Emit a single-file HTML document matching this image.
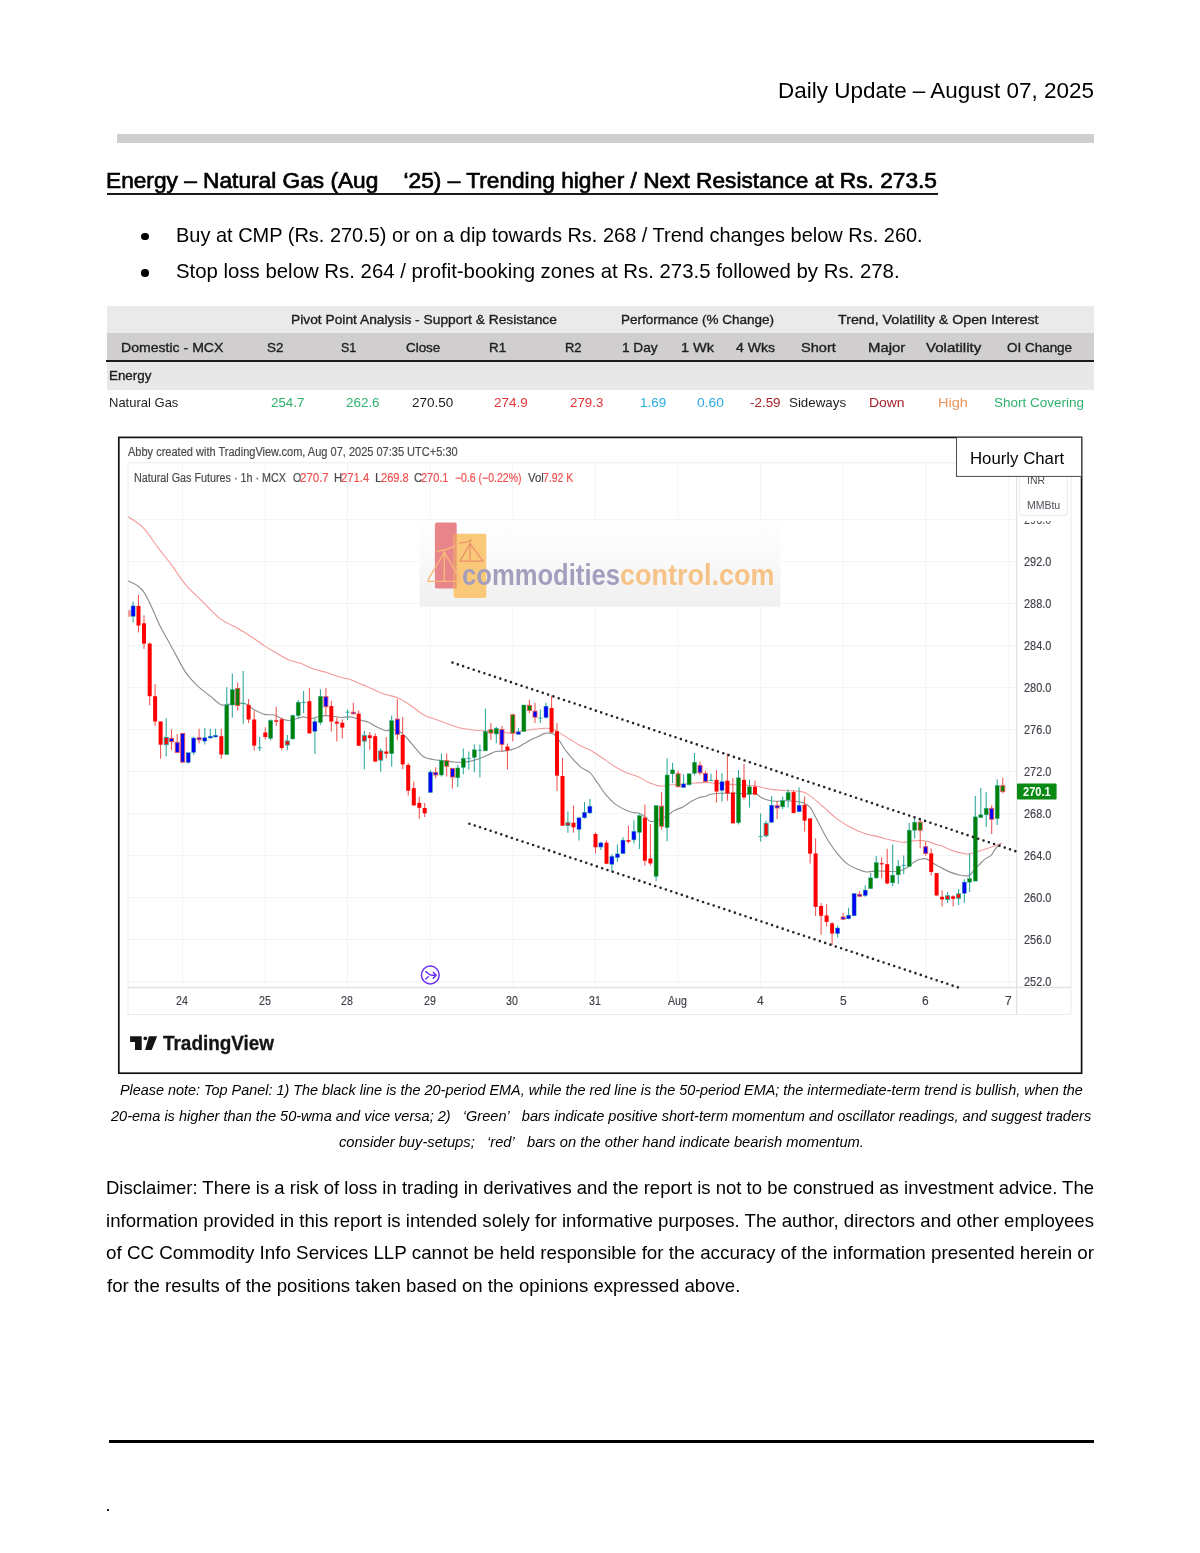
<!DOCTYPE html>
<html lang="en"><head><meta charset="utf-8"><title>Daily Update</title>
<style>
html,body{margin:0;padding:0;background:#fff;}
body{width:1200px;height:1553px;position:relative;overflow:hidden;font-family:'Liberation Sans', sans-serif;color:#000;}
.t{position:absolute;white-space:pre;line-height:1;transform-origin:0 0;}
.r{position:absolute;}
.tx{position:absolute;left:0;top:0;width:1200px;height:1553px;will-change:transform;}
svg{position:absolute;left:0;top:0;}
</style></head><body>
<div class="r" style="left:116.5px;top:134.3px;width:977.8px;height:8.4px;background:#d0cece;"></div>
<div class="r" style="left:107px;top:193.2px;width:831px;height:1.6px;background:#1a1a1a;"></div>
<div class="r" style="left:107.3px;top:306.2px;width:987px;height:27.2px;background:#eaeaea;"></div>
<div class="r" style="left:107.3px;top:333.4px;width:987px;height:27px;background:#d0cece;"></div>
<div class="r" style="left:107.3px;top:362px;width:987px;height:28px;background:#e8e8e8;"></div>
<div class="r" style="left:105.8px;top:360.2px;width:988.5px;height:2px;background:#1c1c1c;"></div>
<div class="r" style="left:109.2px;top:1440px;width:985px;height:3.2px;background:#000;"></div>
<div class="r" style="left:107.2px;top:1508.8px;width:1.7px;height:1.9px;background:#222;"></div>
<div class="r" style="left:141.25px;top:232.6px;width:7.5px;height:7.5px;background:#000;border-radius:50%;"></div>
<div class="r" style="left:141.25px;top:269.1px;width:7.5px;height:7.5px;background:#000;border-radius:50%;"></div>
<svg width="1200" height="1553" viewBox="0 0 1200 1553">
<rect x="118.8" y="437.4" width="962.8" height="635.8" fill="#fff" stroke="#111" stroke-width="1.7"/>
<path d="M128 519.5H1016.5 M128 561.5H1016.5 M128 603.5H1016.5 M128 645.5H1016.5 M128 687.5H1016.5 M128 729.5H1016.5 M128 771.5H1016.5 M128 813.5H1016.5 M128 855.5H1016.5 M128 897.5H1016.5 M128 939.5H1016.5 M128 981.5H1016.5 M182.5 463V987 M265.0 463V987 M347.5 463V987 M430.3 463V987 M512.8 463V987 M595.4 463V987 M678.0 463V987 M760.6 463V987 M843.3 463V987 M925.7 463V987 M1008.8 463V987" stroke="#f3f5f5" stroke-width="1" fill="none"/>
<path d="M128 462.8H1071 M128 462.8V1014.5 M1071 462.8V1014.5 M128 1014.5H1071" stroke="#ebebeb" stroke-width="1" fill="none"/>
<path d="M128 987.5H1071" stroke="#e4e4e4" stroke-width="1.6" fill="none"/>
<path d="M1016.6 463V1014.5" stroke="#e2e2e2" stroke-width="1.2" fill="none"/>
<rect x="1019.5" y="470" width="48" height="45.3" rx="3" fill="#fff" stroke="#eeeeee" stroke-width="1.2"/>
<defs><linearGradient id="wg" x1="0" y1="0" x2="0" y2="1"><stop offset="0" stop-color="#fefefe"/><stop offset="0.5" stop-color="#f9f9f9"/><stop offset="0.78" stop-color="#f3f3f4"/><stop offset="1" stop-color="#f0f0f2"/></linearGradient><filter id="wb" x="-5%" y="-5%" width="110%" height="110%"><feGaussianBlur stdDeviation="0.55"/></filter></defs>
<rect x="419.5" y="521" width="361" height="85.6" fill="url(#wg)"/>
<g filter="url(#wb)">
<rect x="434.9" y="522.6" width="21.8" height="65.9" rx="2" fill="#e8858b"/>
<rect x="453.6" y="533.7" width="32.7" height="64.3" rx="2" fill="#f9c878"/>
<rect x="453.6" y="533.7" width="3.1" height="54.8" fill="#ec9a72"/>
<path d="M437.2 551.2Q446.5 550.3 454.6 546.3 M444.3 551.2V581 M444.3 552.3L428.6 578.8 M444.3 552.3L459.8 578.6 M428.4 581.4H460 M428.6 578.8L428.2 581.6 M459.8 578.6L460.2 581.4" fill="none" stroke="#f8b878" stroke-width="1.4" stroke-linecap="round"/>
<path d="M460 543.2Q466.5 542.2 471.8 540 M470 540V561 M470 543.6L460.2 560.6 M470 543.6L482.7 560.6 M460 561.2H482.8" fill="none" stroke="#ea916c" stroke-width="1.2" stroke-linecap="round"/>
</g>
<defs><filter id="cb" x="0" y="0" width="100%" height="100%" filterUnits="userSpaceOnUse"><feGaussianBlur stdDeviation="0.4"/></filter></defs><g filter="url(#cb)">
<path d="M128.2 516.8C130.7 518.6 138.2 522.6 143.3 527.9C148.4 533.1 153.8 542.2 158.5 548.3C163.2 554.4 166.6 558.5 171.3 564.7C176.0 570.9 181.4 579.7 186.5 585.7C191.6 591.7 196.1 595.3 201.7 600.8C207.3 606.3 214.5 614.4 220.3 618.9C226.1 623.4 232.6 625.4 236.7 627.7C240.8 630.0 242.4 631.2 245.0 632.8C247.6 634.4 248.9 635.1 252.2 637.3C255.4 639.5 260.4 643.2 264.5 645.9C268.6 648.5 272.6 650.9 276.7 653.2C280.8 655.6 284.8 658.3 288.9 660.0C293.0 661.7 297.1 662.1 301.2 663.6C305.3 665.1 309.3 667.7 313.4 669.1C317.5 670.5 321.5 671.0 325.6 672.2C329.7 673.4 333.8 675.3 337.9 676.5C342.0 677.7 346.4 678.3 350.1 679.5C353.8 680.7 357.1 682.6 360.0 683.8C362.9 685.0 362.9 684.9 367.2 686.7C371.5 688.5 380.5 692.8 385.6 694.6C390.7 696.4 393.7 696.0 397.8 697.7C401.9 699.4 405.7 702.1 410.0 705.0C414.3 707.9 419.4 712.4 423.5 714.8C427.6 717.1 430.6 717.7 434.5 719.1C438.4 720.5 442.6 722.0 446.7 723.4C450.8 724.8 455.1 726.7 459.0 727.7C462.9 728.7 466.1 729.0 470.0 729.5C473.9 730.0 478.1 730.4 482.2 730.7C486.3 731.0 489.6 730.8 494.5 731.2C499.4 731.6 507.5 733.0 511.6 733.1C515.7 733.2 515.6 732.2 518.9 731.6C522.2 731.0 526.7 730.2 531.2 729.7C535.7 729.2 542.1 728.4 545.8 728.3C549.5 728.2 550.8 728.2 553.2 729.1C555.7 730.0 557.6 731.7 560.5 733.4C563.4 735.1 567.0 737.5 570.3 739.5C573.6 741.5 576.8 743.9 580.1 745.6C583.4 747.3 587.5 748.7 590.0 749.9C592.5 751.1 592.2 751.2 594.8 753.0C597.4 754.8 602.1 757.9 605.8 760.4C609.5 762.9 613.1 765.6 616.8 767.7C620.5 769.8 624.1 771.7 627.8 773.2C631.5 774.7 635.1 775.3 638.8 776.9C642.5 778.5 646.1 781.5 649.8 783.0C653.5 784.5 657.3 785.8 660.8 786.1C664.3 786.4 666.9 785.1 670.6 784.8C674.3 784.5 678.8 784.5 682.9 784.2C687.0 783.9 691.4 783.3 695.1 783.0C698.8 782.7 702.1 782.4 705.0 782.4C707.9 782.4 709.0 782.6 712.2 782.9C715.5 783.1 720.4 783.6 724.5 783.9C728.6 784.2 732.6 784.5 736.7 784.8C740.8 785.0 745.6 785.2 748.9 785.4C752.2 785.6 753.8 785.6 756.3 786.0C758.8 786.4 760.8 787.2 763.6 787.8C766.5 788.4 769.7 789.1 773.4 789.6C777.1 790.1 781.5 790.2 785.6 790.5C789.7 790.8 794.6 790.8 797.9 791.2C801.2 791.6 802.8 791.6 805.2 792.7C807.6 793.8 810.0 795.7 812.5 797.6C815.0 799.5 818.0 802.5 820.0 804.3C822.0 806.0 822.2 805.8 824.8 808.1C827.4 810.4 831.9 814.9 835.8 817.9C839.7 820.9 843.3 823.3 848.0 825.9C852.7 828.5 858.8 831.4 863.9 833.2C869.0 835.0 873.7 835.7 878.6 836.9C883.5 838.1 889.0 839.7 893.3 840.6C897.6 841.5 901.0 842.4 904.3 842.4C907.6 842.4 909.8 841.2 912.9 840.9C916.0 840.6 919.8 840.4 922.6 840.6C925.5 840.8 927.9 841.5 930.0 842.1C932.1 842.7 933.2 843.6 935.0 844.2C936.8 844.8 938.1 844.6 940.9 845.6C943.7 846.6 948.4 849.3 951.9 850.5C955.4 851.7 958.9 852.4 961.7 853.0C964.6 853.6 966.1 854.2 969.0 853.9C971.9 853.6 975.5 852.1 978.8 851.1C982.1 850.1 985.8 849.0 988.6 848.1C991.5 847.2 993.7 846.4 995.9 845.6C998.1 844.8 1001.0 843.6 1002.0 843.2" fill="none" stroke="#f59a9a" stroke-width="1.1" stroke-linejoin="round"/>
<path d="M128.2 581.0C129.8 581.8 134.9 583.9 137.5 585.7C140.1 587.6 141.6 588.6 143.9 592.1C146.2 595.6 148.9 601.2 151.5 606.7C154.1 612.2 157.0 619.8 159.7 625.3C162.4 630.8 165.4 635.7 167.8 640.0C170.2 644.3 170.8 645.7 173.9 651.2C177.0 656.7 182.1 667.3 186.2 673.2C190.3 679.1 194.3 682.7 198.4 686.6C202.5 690.5 206.9 693.4 210.6 696.4C214.3 699.4 217.8 703.0 220.4 704.4C223.1 705.8 223.2 704.8 226.5 704.6C229.8 704.4 236.5 703.1 240.0 703.1C243.5 703.1 244.9 703.4 247.3 704.6C249.8 705.8 251.8 708.5 254.7 710.1C257.6 711.7 261.2 713.6 264.5 714.4C267.8 715.2 271.4 714.3 274.3 715.0C277.2 715.7 279.2 717.8 281.6 718.7C284.0 719.6 286.4 720.5 288.9 720.5C291.3 720.5 293.9 719.3 296.3 718.7C298.8 718.1 301.2 716.9 303.6 716.9C306.0 716.9 308.2 718.8 310.9 718.7C313.5 718.6 317.1 716.7 319.5 716.2C321.9 715.7 323.4 715.6 325.6 715.6C327.9 715.6 330.4 715.9 333.0 716.2C335.6 716.5 338.6 717.4 341.5 717.5C344.4 717.6 347.5 716.7 350.1 716.9C352.8 717.1 355.6 718.1 357.4 718.7C359.2 719.3 359.2 719.7 361.1 720.3C363.0 720.9 366.1 721.2 368.5 722.2C370.9 723.2 372.9 725.1 375.8 726.5C378.7 727.9 383.0 730.2 385.6 730.7C388.2 731.2 389.5 729.4 391.7 729.5C393.9 729.6 396.6 730.0 399.0 731.3C401.4 732.6 403.5 734.5 406.4 737.5C409.3 740.5 413.2 745.9 416.2 749.1C419.1 752.4 421.2 755.3 424.1 757.0C427.0 758.7 430.1 758.9 433.3 759.5C436.5 760.1 439.8 760.3 443.1 760.7C446.4 761.1 450.0 761.6 452.9 761.9C455.8 762.2 457.3 762.4 460.2 762.3C463.1 762.2 466.7 762.0 470.0 761.4C473.3 760.8 476.8 759.6 479.8 758.5C482.9 757.4 485.7 756.0 488.3 754.8C490.9 753.6 493.2 752.1 495.7 751.5C498.1 750.9 500.6 751.4 503.0 751.1C505.4 750.8 507.9 750.5 510.4 749.9C512.9 749.3 515.5 748.5 517.7 747.5C519.9 746.5 521.5 745.1 523.8 743.8C526.0 742.5 528.8 740.7 531.2 739.5C533.7 738.3 536.3 737.5 538.5 736.5C540.7 735.5 542.8 734.0 544.6 733.4C546.4 732.8 547.9 732.9 549.5 733.1C551.1 733.3 552.8 733.3 554.4 734.6C556.0 735.9 557.3 737.9 559.3 740.7C561.3 743.6 564.1 748.4 566.6 751.7C569.1 755.0 571.5 757.6 574.0 760.3C576.5 762.9 578.6 765.5 581.3 767.6C583.9 769.7 587.2 770.1 589.9 772.6C592.5 775.1 594.6 778.7 597.2 782.4C599.9 786.1 602.7 790.9 605.8 794.6C608.9 798.3 612.3 801.9 615.6 804.4C618.9 806.9 622.4 808.5 625.4 809.9C628.4 811.3 631.7 812.2 633.9 812.7C636.1 813.2 637.0 812.4 638.8 813.0C640.6 813.6 643.0 815.2 644.9 816.6C646.8 818.0 648.6 820.9 650.4 821.5C652.2 822.1 653.8 820.9 655.9 820.3C658.0 819.7 661.0 818.9 663.3 817.9C665.5 816.9 667.6 815.4 669.4 814.2C671.2 813.0 672.0 811.7 674.3 810.5C676.5 809.3 680.0 808.4 682.9 806.9C685.8 805.4 688.8 802.8 691.4 801.3C694.0 799.8 696.5 798.5 698.8 797.7C701.1 796.9 703.2 797.0 705.0 796.5C706.8 796.0 707.4 795.0 709.8 794.5C712.2 794.0 716.5 793.5 719.6 793.3C722.7 793.1 725.2 793.3 728.1 793.3C731.0 793.3 733.2 793.2 736.7 793.3C740.2 793.4 745.6 793.8 748.9 793.9C752.2 794.0 754.2 793.3 756.3 793.9C758.3 794.5 759.2 796.5 761.2 797.6C763.2 798.7 766.1 799.7 768.5 800.3C770.9 800.9 772.9 801.2 775.8 801.3C778.6 801.4 782.3 800.7 785.6 800.7C788.9 800.7 792.3 800.9 795.4 801.3C798.5 801.7 801.5 802.1 804.0 803.1C806.5 804.1 808.3 805.3 810.1 807.4C811.9 809.5 813.2 812.5 815.0 815.9C816.8 819.3 818.9 823.5 821.1 827.7C823.4 831.9 825.6 836.7 828.5 841.2C831.4 845.7 835.0 850.7 838.2 854.6C841.5 858.5 844.7 862.0 848.0 864.4C851.3 866.8 854.7 868.0 857.8 869.3C860.9 870.6 863.8 871.7 866.4 872.0C869.0 872.3 870.9 871.2 873.7 871.1C876.6 871.0 880.2 871.0 883.5 871.1C886.8 871.2 890.4 871.6 893.3 871.5C896.1 871.4 898.1 871.3 900.6 870.5C903.1 869.7 905.8 868.3 908.0 866.9C910.2 865.5 912.1 863.3 914.1 862.0C916.1 860.7 918.2 859.8 920.2 859.3C922.2 858.8 924.3 858.3 926.3 858.9C928.3 859.5 929.9 861.3 932.3 862.8C934.7 864.2 938.0 866.1 940.9 867.6C943.8 869.1 946.4 870.7 949.5 871.9C952.6 873.1 956.0 874.4 959.3 875.0C962.5 875.6 966.6 876.4 969.0 875.6C971.4 874.8 972.3 871.8 973.9 870.1C975.5 868.4 977.0 867.0 978.8 865.2C980.6 863.4 982.8 860.7 984.9 859.1C987.0 857.5 989.3 857.2 991.1 855.4C992.9 853.6 994.3 850.0 995.9 848.1C997.5 846.2 1000.0 844.5 1000.8 843.8" fill="none" stroke="#8f8f8f" stroke-width="1.15" stroke-linejoin="round"/>
<path d="M138.5 594.9V632.6 M144.0 615.3V649.0 M149.7 642.6V705.2 M155.1 684.2V725.8 M160.6 721.5V758.8 M171.5 729.2V750.0 M177.2 734.1V752.7 M182.7 733.4V762.2 M199.1 728.8V743.5 M221.3 728.8V758.8 M237.7 682.4V710.5 M248.6 699.1V723.0 M254.2 710.7V750.5 M265.3 727.2V739.5 M276.2 706.8V726.0 M281.7 717.5V750.5 M309.4 688.1V733.4 M325.9 688.1V715.4 M331.3 700.7V731.5 M336.8 717.5V741.6 M342.3 719.3V738.6 M353.3 702.8V714.4 M358.7 710.6V746.0 M369.8 732.0V750.0 M375.2 733.2V761.6 M386.3 736.9V758.6 M397.3 698.9V740.3 M402.7 717.0V769.3 M408.2 763.1V795.6 M413.8 781.5V805.4 M419.3 796.8V818.8 M424.7 802.9V817.0 M435.7 767.2V778.2 M446.7 753.4V776.6 M452.4 768.4V788.8 M490.9 723.0V740.1 M501.9 726.1V751.5 M507.4 743.5V769.5 M512.8 713.8V741.3 M529.4 699.8V713.2 M535.0 702.8V723.0 M551.6 695.5V732.4 M557.0 723.0V790.9 M562.5 757.9V825.7 M573.5 805.6V832.7 M595.5 832.5V853.1 M606.5 840.5V864.3 M628.4 825.8V843.5 M644.9 804.4V865.6 M650.4 824.0V865.6 M661.6 792.2V829.8 M678.1 770.8V787.3 M700.0 761.6V775.3 M705.5 770.7V781.5 M716.5 770.1V802.5 M727.4 753.6V800.7 M732.9 778.3V823.3 M744.0 764.0V799.4 M755.0 780.5V795.2 M777.1 801.0V819.0 M793.6 790.3V813.7 M804.6 796.4V831.6 M810.1 818.4V863.4 M815.6 838.2V916.0 M821.1 902.9V934.7 M826.6 904.2V926.5 M832.1 921.9V945.1 M843.1 912.7V919.5 M859.6 891.3V896.5 M881.7 857.3V878.5 M887.2 848.7V884.2 M920.2 819.1V848.3 M925.7 841.8V855.8 M931.2 848.5V875.4 M936.6 873.1V895.5 M942.1 890.3V906.5 M953.1 895.2V906.5 M991.7 805.3V834.0 M1002.8 777.7V793.6" stroke="#ee5451" stroke-width="1.05" fill="none"/>
<path d="M133.1 601.6V622.8 M166.2 718.2V756.6 M188.2 752.7V763.5 M193.7 736.8V754.9 M204.8 728.0V744.4 M210.3 728.8V738.6 M215.6 728.8V737.4 M226.8 687.2V754.5 M232.3 673.4V717.8 M243.2 670.9V723.8 M259.7 737.0V751.1 M270.7 719.3V740.5 M287.3 735.0V750.2 M292.8 714.4V739.5 M298.2 700.0V718.7 M303.6 690.9V713.2 M314.9 718.0V753.9 M320.4 689.3V724.8 M347.6 709.5V719.9 M364.3 730.7V769.6 M380.7 748.5V771.7 M391.7 715.4V766.8 M430.4 769.9V792.5 M441.4 753.4V776.6 M457.8 765.0V787.0 M463.3 748.5V774.2 M468.8 751.5V769.6 M474.3 744.3V772.3 M479.9 744.4V777.4 M485.4 708.7V750.8 M496.3 726.7V743.2 M518.4 728.3V734.4 M523.9 705.0V731.3 M540.3 709.5V723.0 M546.0 702.8V718.5 M567.9 811.4V832.7 M579.0 817.8V840.4 M584.5 801.9V818.4 M589.9 798.9V813.6 M600.9 841.7V849.9 M611.9 854.3V871.7 M617.4 844.5V861.9 M623.0 837.2V853.9 M633.9 820.3V843.5 M639.4 814.2V849.0 M656.1 805.6V881.2 M667.1 758.2V841.3 M672.6 762.8V783.0 M683.6 774.4V787.5 M689.1 773.8V785.4 M694.5 753.0V775.3 M711.0 773.7V781.1 M722.0 773.1V801.5 M738.5 770.1V824.5 M749.5 779.5V807.4 M760.6 813.5V841.6 M766.1 820.6V837.4 M771.6 796.1V822.3 M782.7 796.4V809.2 M788.1 789.3V807.4 M799.1 787.2V811.7 M837.6 925.6V937.6 M848.6 907.8V919.2 M854.1 893.5V915.8 M865.2 885.2V896.8 M870.7 873.0V888.9 M876.2 856.1V878.8 M892.7 844.6V886.2 M898.2 860.1V884.0 M903.7 855.6V874.2 M909.2 823.1V866.9 M914.7 817.3V838.5 M947.6 892.1V902.9 M958.6 889.0V905.0 M964.3 879.3V902.9 M969.6 853.6V891.9 M975.3 796.1V881.1 M980.8 788.1V818.1 M986.2 792.0V827.0 M997.2 779.3V825.1" stroke="#2aa79b" stroke-width="1.05" fill="none"/>
<rect x="128.3" y="610.2" width="2.3" height="6.5" fill="#f28a8a"/>
<rect x="131.1" y="605.9" width="4.0" height="10.4" fill="#0000ff" stroke="#2aa79b" stroke-width="0.5"/>
<rect x="136.5" y="605.9" width="4.0" height="19.6" fill="#ff0000"/>
<rect x="142.0" y="623.3" width="4.0" height="20.3" fill="#ff0000"/>
<rect x="147.7" y="643.6" width="4.0" height="52.6" fill="#ff0000"/>
<rect x="153.1" y="696.2" width="4.0" height="25.3" fill="#ff0000"/>
<rect x="158.6" y="721.5" width="4.0" height="23.2" fill="#ff0000"/>
<rect x="164.2" y="737.4" width="4.0" height="7.3" fill="#ff0000" stroke="#2aa79b" stroke-width="0.9"/>
<rect x="169.5" y="738.3" width="4.0" height="3.4" fill="#0000ff" stroke="#ee5451" stroke-width="0.9"/>
<rect x="175.2" y="742.3" width="4.0" height="10.1" fill="#0000ff" stroke="#ee5451" stroke-width="0.9"/>
<rect x="180.7" y="733.4" width="4.0" height="28.8" fill="#0000ff" stroke="#ee5451" stroke-width="0.9"/>
<rect x="186.2" y="752.7" width="4.0" height="9.8" fill="#0000ff" stroke="#2aa79b" stroke-width="0.5"/>
<rect x="191.7" y="738.0" width="4.0" height="14.4" fill="#0000ff" stroke="#2aa79b" stroke-width="0.5"/>
<rect x="197.1" y="737.8" width="4.0" height="2.0" fill="#0000ff" stroke="#ee5451" stroke-width="0.9"/>
<rect x="202.8" y="737.8" width="4.0" height="3.3" fill="#0000ff" stroke="#2aa79b" stroke-width="0.5"/>
<rect x="208.3" y="736.2" width="4.0" height="1.8" fill="#0000ff" stroke="#2aa79b" stroke-width="0.5"/>
<rect x="213.6" y="735.3" width="4.0" height="1.7" fill="#0000ff" stroke="#2aa79b" stroke-width="0.5"/>
<rect x="219.3" y="736.2" width="4.0" height="18.3" fill="#ff0000"/>
<rect x="224.8" y="705.0" width="4.0" height="49.5" fill="#008000" stroke="#2aa79b" stroke-width="0.5"/>
<rect x="230.3" y="689.7" width="4.0" height="15.3" fill="#008000" stroke="#2aa79b" stroke-width="0.5"/>
<rect x="235.7" y="688.5" width="4.0" height="17.1" fill="#008000" stroke="#ee5451" stroke-width="0.9"/>
<rect x="241.2" y="703.0" width="4.0" height="1.0" fill="#2aa79b"/>
<rect x="246.6" y="704.9" width="4.0" height="14.6" fill="#ff0000"/>
<rect x="252.2" y="719.5" width="4.0" height="26.1" fill="#ff0000"/>
<rect x="257.7" y="747.3" width="4.0" height="1.0" fill="#2aa79b"/>
<rect x="263.3" y="732.5" width="4.0" height="4.5" fill="#ff0000"/>
<rect x="268.7" y="720.5" width="4.0" height="17.8" fill="#008000" stroke="#2aa79b" stroke-width="0.5"/>
<rect x="274.2" y="720.3" width="4.0" height="1.4" fill="#ff0000"/>
<rect x="279.7" y="719.3" width="4.0" height="28.7" fill="#ff0000"/>
<rect x="285.3" y="741.0" width="4.0" height="4.0" fill="#ff0000" stroke="#2aa79b" stroke-width="0.9"/>
<rect x="290.8" y="715.6" width="4.0" height="23.3" fill="#008000" stroke="#2aa79b" stroke-width="0.5"/>
<rect x="296.2" y="702.2" width="4.0" height="13.4" fill="#008000" stroke="#2aa79b" stroke-width="0.5"/>
<rect x="301.6" y="701.9" width="4.0" height="1.0" fill="#2aa79b"/>
<rect x="307.4" y="701.2" width="4.0" height="32.2" fill="#ff0000"/>
<rect x="312.9" y="721.7" width="4.0" height="9.6" fill="#0000ff" stroke="#2aa79b" stroke-width="0.5"/>
<rect x="318.4" y="696.3" width="4.0" height="26.1" fill="#008000" stroke="#2aa79b" stroke-width="0.5"/>
<rect x="323.9" y="696.7" width="4.0" height="10.1" fill="#0000ff" stroke="#ee5451" stroke-width="0.9"/>
<rect x="329.3" y="706.1" width="4.0" height="15.4" fill="#ff0000"/>
<rect x="334.8" y="721.7" width="4.0" height="1.9" fill="#ff0000"/>
<rect x="340.3" y="722.7" width="4.0" height="4.9" fill="#ff0000"/>
<rect x="345.6" y="711.7" width="4.0" height="1.0" fill="#2aa79b"/>
<rect x="351.3" y="712.2" width="4.0" height="1.6" fill="#0000ff" stroke="#ee5451" stroke-width="0.9"/>
<rect x="356.7" y="713.7" width="4.0" height="32.1" fill="#ff0000"/>
<rect x="362.3" y="735.6" width="4.0" height="5.5" fill="#ff0000" stroke="#2aa79b" stroke-width="0.9"/>
<rect x="367.8" y="735.3" width="4.0" height="2.8" fill="#ff0000"/>
<rect x="373.2" y="736.2" width="4.0" height="25.4" fill="#ff0000"/>
<rect x="378.7" y="750.9" width="4.0" height="9.2" fill="#ff0000" stroke="#2aa79b" stroke-width="0.9"/>
<rect x="384.3" y="751.5" width="4.0" height="2.2" fill="#ff0000"/>
<rect x="389.7" y="720.7" width="4.0" height="33.0" fill="#008000" stroke="#2aa79b" stroke-width="0.5"/>
<rect x="395.3" y="719.1" width="4.0" height="15.3" fill="#0000ff" stroke="#ee5451" stroke-width="0.9"/>
<rect x="400.7" y="735.0" width="4.0" height="29.4" fill="#ff0000"/>
<rect x="406.2" y="765.0" width="4.0" height="25.7" fill="#ff0000"/>
<rect x="411.8" y="788.2" width="4.0" height="17.2" fill="#ff0000"/>
<rect x="417.3" y="802.9" width="4.0" height="4.9" fill="#ff0000"/>
<rect x="422.7" y="808.0" width="4.0" height="5.3" fill="#ff0000"/>
<rect x="428.4" y="772.1" width="4.0" height="20.4" fill="#0000ff" stroke="#2aa79b" stroke-width="0.5"/>
<rect x="433.7" y="772.3" width="4.0" height="2.7" fill="#0000ff" stroke="#ee5451" stroke-width="0.9"/>
<rect x="439.4" y="760.5" width="4.0" height="14.5" fill="#008000" stroke="#2aa79b" stroke-width="0.5"/>
<rect x="444.7" y="760.7" width="4.0" height="5.5" fill="#008000" stroke="#ee5451" stroke-width="0.9"/>
<rect x="450.4" y="768.4" width="4.0" height="8.6" fill="#0000ff" stroke="#ee5451" stroke-width="0.9"/>
<rect x="455.8" y="768.0" width="4.0" height="9.8" fill="#008000" stroke="#2aa79b" stroke-width="0.5"/>
<rect x="461.3" y="758.3" width="4.0" height="9.1" fill="#008000" stroke="#2aa79b" stroke-width="0.5"/>
<rect x="466.8" y="757.8" width="4.0" height="1.0" fill="#2aa79b"/>
<rect x="472.3" y="749.8" width="4.0" height="7.6" fill="#008000" stroke="#2aa79b" stroke-width="0.5"/>
<rect x="477.9" y="749.8" width="4.0" height="1.0" fill="#2aa79b"/>
<rect x="483.4" y="731.6" width="4.0" height="19.2" fill="#008000" stroke="#2aa79b" stroke-width="0.5"/>
<rect x="488.9" y="729.7" width="4.0" height="3.4" fill="#008000" stroke="#ee5451" stroke-width="0.9"/>
<rect x="494.3" y="728.3" width="4.0" height="5.7" fill="#008000" stroke="#2aa79b" stroke-width="0.5"/>
<rect x="499.9" y="729.5" width="4.0" height="14.9" fill="#0000ff" stroke="#ee5451" stroke-width="0.9"/>
<rect x="505.4" y="746.6" width="4.0" height="3.9" fill="#ff0000"/>
<rect x="510.8" y="714.8" width="4.0" height="18.3" fill="#008000" stroke="#ee5451" stroke-width="0.9"/>
<rect x="516.4" y="731.9" width="4.0" height="2.5" fill="#0000ff" stroke="#2aa79b" stroke-width="0.5"/>
<rect x="521.9" y="705.0" width="4.0" height="26.3" fill="#008000" stroke="#2aa79b" stroke-width="0.5"/>
<rect x="527.4" y="705.3" width="4.0" height="5.1" fill="#008000" stroke="#ee5451" stroke-width="0.9"/>
<rect x="533.0" y="711.1" width="4.0" height="6.1" fill="#0000ff" stroke="#ee5451" stroke-width="0.9"/>
<rect x="538.3" y="717.6" width="4.0" height="1.0" fill="#2aa79b"/>
<rect x="544.0" y="706.2" width="4.0" height="11.3" fill="#0000ff" stroke="#2aa79b" stroke-width="0.5"/>
<rect x="549.6" y="708.0" width="4.0" height="24.4" fill="#ff0000"/>
<rect x="555.0" y="731.3" width="4.0" height="44.3" fill="#ff0000"/>
<rect x="560.5" y="776.0" width="4.0" height="49.7" fill="#ff0000"/>
<rect x="565.9" y="822.7" width="4.0" height="2.7" fill="#ff0000" stroke="#2aa79b" stroke-width="0.9"/>
<rect x="571.5" y="822.7" width="4.0" height="4.6" fill="#ff0000"/>
<rect x="577.0" y="817.8" width="4.0" height="11.6" fill="#0000ff" stroke="#2aa79b" stroke-width="0.5"/>
<rect x="582.5" y="812.3" width="4.0" height="5.5" fill="#0000ff" stroke="#2aa79b" stroke-width="0.5"/>
<rect x="587.9" y="806.2" width="4.0" height="6.8" fill="#0000ff" stroke="#2aa79b" stroke-width="0.5"/>
<rect x="593.5" y="834.0" width="4.0" height="13.2" fill="#ff0000"/>
<rect x="598.9" y="842.9" width="4.0" height="4.1" fill="#0000ff" stroke="#2aa79b" stroke-width="0.5"/>
<rect x="604.5" y="842.7" width="4.0" height="21.0" fill="#ff0000"/>
<rect x="609.9" y="856.4" width="4.0" height="7.9" fill="#0000ff" stroke="#2aa79b" stroke-width="0.5"/>
<rect x="615.4" y="853.9" width="4.0" height="3.7" fill="#0000ff" stroke="#2aa79b" stroke-width="0.5"/>
<rect x="621.0" y="840.1" width="4.0" height="13.5" fill="#0000ff" stroke="#2aa79b" stroke-width="0.5"/>
<rect x="626.4" y="840.1" width="4.0" height="1.6" fill="#ff0000"/>
<rect x="631.9" y="831.3" width="4.0" height="8.6" fill="#0000ff" stroke="#2aa79b" stroke-width="0.5"/>
<rect x="637.4" y="815.7" width="4.0" height="16.6" fill="#008000" stroke="#2aa79b" stroke-width="0.5"/>
<rect x="642.9" y="817.6" width="4.0" height="43.1" fill="#ff0000"/>
<rect x="648.4" y="858.5" width="4.0" height="4.9" fill="#ff0000"/>
<rect x="654.1" y="805.6" width="4.0" height="70.7" fill="#008000" stroke="#2aa79b" stroke-width="0.5"/>
<rect x="659.6" y="806.2" width="4.0" height="20.0" fill="#008000" stroke="#ee5451" stroke-width="0.9"/>
<rect x="665.1" y="775.0" width="4.0" height="52.6" fill="#008000" stroke="#2aa79b" stroke-width="0.5"/>
<rect x="670.6" y="769.9" width="4.0" height="3.9" fill="#008000" stroke="#2aa79b" stroke-width="0.5"/>
<rect x="676.1" y="773.8" width="4.0" height="12.9" fill="#008000" stroke="#ee5451" stroke-width="0.9"/>
<rect x="681.6" y="783.9" width="4.0" height="3.6" fill="#0000ff" stroke="#2aa79b" stroke-width="0.5"/>
<rect x="687.1" y="773.8" width="4.0" height="11.0" fill="#008000" stroke="#2aa79b" stroke-width="0.5"/>
<rect x="692.5" y="762.2" width="4.0" height="11.0" fill="#008000" stroke="#2aa79b" stroke-width="0.5"/>
<rect x="698.0" y="765.3" width="4.0" height="7.5" fill="#0000ff" stroke="#ee5451" stroke-width="0.9"/>
<rect x="703.5" y="773.4" width="4.0" height="8.1" fill="#0000ff" stroke="#ee5451" stroke-width="0.9"/>
<rect x="709.0" y="780.0" width="4.0" height="1.0" fill="#2aa79b"/>
<rect x="714.5" y="779.9" width="4.0" height="11.6" fill="#ff0000"/>
<rect x="720.0" y="781.7" width="4.0" height="8.6" fill="#0000ff" stroke="#2aa79b" stroke-width="0.5"/>
<rect x="725.4" y="780.7" width="4.0" height="12.6" fill="#ff0000"/>
<rect x="730.9" y="792.5" width="4.0" height="30.8" fill="#ff0000"/>
<rect x="736.5" y="777.8" width="4.0" height="44.9" fill="#008000" stroke="#2aa79b" stroke-width="0.5"/>
<rect x="742.0" y="779.9" width="4.0" height="17.5" fill="#ff0000"/>
<rect x="747.5" y="786.8" width="4.0" height="7.4" fill="#008000" stroke="#2aa79b" stroke-width="0.5"/>
<rect x="753.0" y="786.8" width="4.0" height="7.7" fill="#ff0000"/>
<rect x="758.6" y="836.0" width="4.0" height="1.0" fill="#2aa79b"/>
<rect x="764.1" y="823.3" width="4.0" height="12.5" fill="#ff0000" stroke="#2aa79b" stroke-width="0.9"/>
<rect x="769.6" y="805.2" width="4.0" height="17.1" fill="#0000ff" stroke="#2aa79b" stroke-width="0.5"/>
<rect x="775.1" y="805.6" width="4.0" height="2.4" fill="#0000ff" stroke="#ee5451" stroke-width="0.9"/>
<rect x="780.7" y="800.7" width="4.0" height="6.1" fill="#008000" stroke="#2aa79b" stroke-width="0.5"/>
<rect x="786.1" y="792.5" width="4.0" height="7.5" fill="#008000" stroke="#2aa79b" stroke-width="0.5"/>
<rect x="791.6" y="792.1" width="4.0" height="20.8" fill="#ff0000"/>
<rect x="797.1" y="805.2" width="4.0" height="6.5" fill="#0000ff" stroke="#2aa79b" stroke-width="0.5"/>
<rect x="802.6" y="804.9" width="4.0" height="15.7" fill="#ff0000"/>
<rect x="808.1" y="818.4" width="4.0" height="35.2" fill="#ff0000"/>
<rect x="813.6" y="853.5" width="4.0" height="53.3" fill="#ff0000"/>
<rect x="819.1" y="906.0" width="4.0" height="9.8" fill="#ff0000"/>
<rect x="824.6" y="915.5" width="4.0" height="6.4" fill="#ff0000"/>
<rect x="830.1" y="923.4" width="4.0" height="10.1" fill="#ff0000"/>
<rect x="835.6" y="928.0" width="4.0" height="5.5" fill="#0000ff" stroke="#2aa79b" stroke-width="0.5"/>
<rect x="841.1" y="917.0" width="4.0" height="2.2" fill="#0000ff" stroke="#ee5451" stroke-width="0.9"/>
<rect x="846.6" y="915.2" width="4.0" height="3.6" fill="#0000ff" stroke="#2aa79b" stroke-width="0.5"/>
<rect x="852.1" y="893.5" width="4.0" height="22.3" fill="#0000ff" stroke="#2aa79b" stroke-width="0.5"/>
<rect x="857.6" y="894.4" width="4.0" height="1.8" fill="#0000ff" stroke="#ee5451" stroke-width="0.9"/>
<rect x="863.2" y="890.1" width="4.0" height="5.5" fill="#0000ff" stroke="#2aa79b" stroke-width="0.5"/>
<rect x="868.7" y="877.9" width="4.0" height="10.7" fill="#008000" stroke="#2aa79b" stroke-width="0.5"/>
<rect x="874.2" y="862.6" width="4.0" height="15.3" fill="#008000" stroke="#2aa79b" stroke-width="0.5"/>
<rect x="879.7" y="863.2" width="4.0" height="1.2" fill="#ff0000"/>
<rect x="885.2" y="864.2" width="4.0" height="19.2" fill="#ff0000"/>
<rect x="890.7" y="875.2" width="4.0" height="7.6" fill="#008000" stroke="#2aa79b" stroke-width="0.5"/>
<rect x="896.2" y="866.2" width="4.0" height="8.6" fill="#008000" stroke="#2aa79b" stroke-width="0.5"/>
<rect x="901.7" y="864.9" width="4.0" height="1.0" fill="#2aa79b"/>
<rect x="907.2" y="830.2" width="4.0" height="36.4" fill="#008000" stroke="#2aa79b" stroke-width="0.5"/>
<rect x="912.7" y="822.2" width="4.0" height="8.0" fill="#008000" stroke="#2aa79b" stroke-width="0.5"/>
<rect x="918.2" y="822.2" width="4.0" height="8.0" fill="#008000" stroke="#ee5451" stroke-width="0.9"/>
<rect x="923.7" y="846.7" width="4.0" height="6.7" fill="#0000ff" stroke="#ee5451" stroke-width="0.9"/>
<rect x="929.2" y="853.4" width="4.0" height="18.6" fill="#ff0000"/>
<rect x="934.6" y="873.1" width="4.0" height="22.4" fill="#ff0000"/>
<rect x="940.1" y="896.8" width="4.0" height="2.6" fill="#ff0000"/>
<rect x="945.6" y="895.8" width="4.0" height="3.6" fill="#ff0000" stroke="#2aa79b" stroke-width="0.9"/>
<rect x="951.1" y="896.4" width="4.0" height="2.4" fill="#ff0000"/>
<rect x="956.6" y="893.9" width="4.0" height="4.3" fill="#ff0000" stroke="#2aa79b" stroke-width="0.9"/>
<rect x="962.3" y="882.1" width="4.0" height="11.2" fill="#0000ff" stroke="#2aa79b" stroke-width="0.5"/>
<rect x="967.6" y="878.7" width="4.0" height="3.4" fill="#008000" stroke="#2aa79b" stroke-width="0.5"/>
<rect x="973.3" y="816.9" width="4.0" height="64.2" fill="#008000" stroke="#2aa79b" stroke-width="0.5"/>
<rect x="978.8" y="814.8" width="4.0" height="2.7" fill="#008000" stroke="#2aa79b" stroke-width="0.5"/>
<rect x="984.2" y="808.3" width="4.0" height="6.5" fill="#008000" stroke="#2aa79b" stroke-width="0.5"/>
<rect x="989.7" y="808.3" width="4.0" height="11.0" fill="#0000ff" stroke="#ee5451" stroke-width="0.9"/>
<rect x="995.2" y="785.4" width="4.0" height="33.1" fill="#008000" stroke="#2aa79b" stroke-width="0.5"/>
<rect x="1000.8" y="785.7" width="4.0" height="5.9" fill="#008000" stroke="#ee5451" stroke-width="0.9"/>
<path d="M452.5 662.6L1016.4 851.5 M469.4 823.7L958.9 987.7" stroke="#262626" stroke-width="2.6" stroke-linecap="round" stroke-dasharray="0 5.6" fill="none"/>
</g>
<rect x="1017" y="783.6" width="39.6" height="16" rx="1" fill="#0a8a14"/>
<g fill="none" stroke="#6b2ff5" stroke-width="1.5" stroke-linecap="round" stroke-linejoin="round"><circle cx="430.3" cy="975" r="8.9"/><path d="M426 971.6C428.5 974 429 975.2 432 975.2H435.6 M433.3 972.3L436.2 975.2L433.3 978.1 M425.8 979L428.2 976.8"/></g>
<g fill="#141414"><path d="M130.1 1036.3H141.7V1050.1H135V1042.1H130.1Z"/><circle cx="145.3" cy="1038.3" r="1.85"/><path d="M148.9 1036.3H157.1L151.7 1050.1H145.1Z"/></g>
<rect x="956.5" y="437.4" width="125" height="39" fill="#fff" stroke="#4a4a4a" stroke-width="1"/>
</svg>

<div class="tx">
<span class="t" style="left:777.60px;top:79.84px;font-size:21.6px;transform:scaleX(1.0404);">Daily Update – August 07, 2025</span>
<span class="t" style="left:106.40px;top:169.02px;font-size:22.8px;-webkit-text-stroke:0.7px currentColor;transform:scaleX(0.9951);">Energy – Natural Gas (Aug&nbsp;&nbsp;&nbsp; ‘25) – Trending higher / Next Resistance at Rs. 273.5</span>
<span class="t" style="left:175.90px;top:224.69px;font-size:20.6px;transform:scaleX(0.9697);">Buy at CMP (Rs. 270.5) or on a dip towards Rs. 268 / Trend changes below Rs. 260.</span>
<span class="t" style="left:176.40px;top:261.39px;font-size:20.6px;transform:scaleX(0.9892);">Stop loss below Rs. 264 / profit-booking zones at Rs. 273.5 followed by Rs. 278.</span>
<span class="t" style="left:291.38px;top:312.98px;font-size:13.2px;color:#1e1e1e;-webkit-text-stroke:0.35px currentColor;transform:scaleX(1.0453);">Pivot Point Analysis - Support &amp; Resistance</span>
<span class="t" style="left:621.18px;top:312.98px;font-size:13.2px;color:#1e1e1e;-webkit-text-stroke:0.35px currentColor;transform:scaleX(1.0238);">Performance (% Change)</span>
<span class="t" style="left:838.18px;top:312.98px;font-size:13.2px;color:#1e1e1e;-webkit-text-stroke:0.35px currentColor;transform:scaleX(1.0796);">Trend, Volatility &amp; Open Interest</span>
<span class="t" style="left:120.58px;top:340.58px;font-size:13.2px;color:#1e1e1e;-webkit-text-stroke:0.35px currentColor;transform:scaleX(1.0667);">Domestic - MCX</span>
<span class="t" style="left:267.08px;top:340.58px;font-size:13.2px;color:#1e1e1e;-webkit-text-stroke:0.35px currentColor;transform:scaleX(1.0152);">S2</span>
<span class="t" style="left:341.18px;top:340.58px;font-size:13.2px;color:#1e1e1e;-webkit-text-stroke:0.35px currentColor;transform:scaleX(0.9471);">S1</span>
<span class="t" style="left:406.18px;top:340.58px;font-size:13.2px;color:#1e1e1e;-webkit-text-stroke:0.35px currentColor;transform:scaleX(1.0168);">Close</span>
<span class="t" style="left:489.18px;top:340.58px;font-size:13.2px;color:#1e1e1e;-webkit-text-stroke:0.35px currentColor;transform:scaleX(1.0134);">R1</span>
<span class="t" style="left:564.68px;top:340.58px;font-size:13.2px;color:#1e1e1e;-webkit-text-stroke:0.35px currentColor;transform:scaleX(0.9838);">R2</span>
<span class="t" style="left:622.38px;top:340.58px;font-size:13.2px;color:#1e1e1e;-webkit-text-stroke:0.35px currentColor;transform:scaleX(1.0329);">1 Day</span>
<span class="t" style="left:681.18px;top:340.58px;font-size:13.2px;color:#1e1e1e;-webkit-text-stroke:0.35px currentColor;transform:scaleX(1.1011);">1 Wk</span>
<span class="t" style="left:735.68px;top:340.58px;font-size:13.2px;color:#1e1e1e;-webkit-text-stroke:0.35px currentColor;transform:scaleX(1.0667);">4 Wks</span>
<span class="t" style="left:800.68px;top:340.58px;font-size:13.2px;color:#1e1e1e;-webkit-text-stroke:0.35px currentColor;transform:scaleX(1.1032);">Short</span>
<span class="t" style="left:868.18px;top:340.58px;font-size:13.2px;color:#1e1e1e;-webkit-text-stroke:0.35px currentColor;transform:scaleX(1.1304);">Major</span>
<span class="t" style="left:925.68px;top:340.58px;font-size:13.2px;color:#1e1e1e;-webkit-text-stroke:0.35px currentColor;transform:scaleX(1.1425);">Volatility</span>
<span class="t" style="left:1006.68px;top:340.58px;font-size:13.2px;color:#1e1e1e;-webkit-text-stroke:0.35px currentColor;transform:scaleX(1.0205);">OI Change</span>
<span class="t" style="left:109.08px;top:368.58px;font-size:13.2px;color:#1e1e1e;-webkit-text-stroke:0.35px currentColor;transform:scaleX(1.0141);">Energy</span>
<span class="t" style="left:109.08px;top:396.08px;font-size:13.2px;color:#1e1e1e;transform:scaleX(0.9859);">Natural Gas</span>
<span class="t" style="left:271.18px;top:396.08px;font-size:13.2px;color:#2fb16d;transform:scaleX(1.0082);">254.7</span>
<span class="t" style="left:345.68px;top:396.08px;font-size:13.2px;color:#2fb16d;transform:scaleX(1.0173);">262.6</span>
<span class="t" style="left:412.38px;top:396.08px;font-size:13.2px;color:#1e1e1e;transform:scaleX(1.0258);">270.50</span>
<span class="t" style="left:494.18px;top:396.08px;font-size:13.2px;color:#e4343a;transform:scaleX(1.0233);">274.9</span>
<span class="t" style="left:570.38px;top:396.08px;font-size:13.2px;color:#e4343a;transform:scaleX(1.0112);">279.3</span>
<span class="t" style="left:639.88px;top:396.08px;font-size:13.2px;color:#2baae1;transform:scaleX(1.0161);">1.69</span>
<span class="t" style="left:696.88px;top:396.08px;font-size:13.2px;color:#2baae1;transform:scaleX(1.0473);">0.60</span>
<span class="t" style="left:750.38px;top:396.08px;font-size:13.2px;color:#a3242b;transform:scaleX(1.0174);">-2.59</span>
<span class="t" style="left:789.18px;top:396.08px;font-size:13.2px;color:#1e1e1e;transform:scaleX(1.0112);">Sideways</span>
<span class="t" style="left:869.18px;top:396.08px;font-size:13.2px;color:#a3242b;transform:scaleX(1.0554);">Down</span>
<span class="t" style="left:938.18px;top:396.08px;font-size:13.2px;color:#e9955f;transform:scaleX(1.0981);">High</span>
<span class="t" style="left:994.18px;top:396.08px;font-size:13.2px;color:#2fb16d;transform:scaleX(1.0241);">Short Covering</span>
<span class="t" style="left:127.58px;top:446.10px;font-size:12px;color:#4a4a4e;-webkit-text-stroke:0.18px currentColor;transform:scaleX(0.9182);">Abby created with TradingView.com, Aug 07, 2025 07:35 UTC+5:30</span>
<span class="t" style="left:134.48px;top:472.00px;font-size:12px;color:#4a4a4e;-webkit-text-stroke:0.18px currentColor;transform:scaleX(0.8977);">Natural Gas Futures · 1h · MCX</span>
<span class="t" style="left:292.68px;top:472.00px;font-size:12px;color:#4a4a4e;-webkit-text-stroke:0.18px currentColor;transform:scaleX(0.8840);">O</span>
<span class="t" style="left:299.68px;top:472.00px;font-size:12px;color:#f0504e;-webkit-text-stroke:0.18px currentColor;transform:scaleX(0.9577);">270.7</span>
<span class="t" style="left:333.98px;top:472.00px;font-size:12px;color:#4a4a4e;-webkit-text-stroke:0.18px currentColor;transform:scaleX(0.9525);">H</span>
<span class="t" style="left:340.98px;top:472.00px;font-size:12px;color:#f0504e;-webkit-text-stroke:0.18px currentColor;transform:scaleX(0.9410);">271.4</span>
<span class="t" style="left:375.18px;top:472.00px;font-size:12px;color:#4a4a4e;-webkit-text-stroke:0.18px currentColor;transform:scaleX(1.0108);">L</span>
<span class="t" style="left:380.68px;top:472.00px;font-size:12px;color:#f0504e;-webkit-text-stroke:0.18px currentColor;transform:scaleX(0.9244);">269.8</span>
<span class="t" style="left:413.98px;top:472.00px;font-size:12px;color:#4a4a4e;-webkit-text-stroke:0.18px currentColor;transform:scaleX(0.9525);">C</span>
<span class="t" style="left:420.98px;top:472.00px;font-size:12px;color:#f0504e;-webkit-text-stroke:0.18px currentColor;transform:scaleX(0.9144);">270.1</span>
<span class="t" style="left:455.18px;top:472.00px;font-size:12px;color:#f0504e;-webkit-text-stroke:0.18px currentColor;transform:scaleX(0.8738);">−0.6 (−0.22%)</span>
<span class="t" style="left:528.18px;top:472.00px;font-size:12px;color:#4a4a4e;-webkit-text-stroke:0.18px currentColor;transform:scaleX(0.9444);">Vol</span>
<span class="t" style="left:542.68px;top:472.00px;font-size:12px;color:#f0504e;-webkit-text-stroke:0.18px currentColor;transform:scaleX(0.8720);">7.92 K</span>
<span class="t" style="left:970.20px;top:451.24px;font-size:16.9px;transform:scaleX(0.9935);">Hourly Chart</span>
<span class="t" style="left:163.30px;top:1033.10px;font-size:20px;font-weight:bold;color:#141414;-webkit-text-stroke:0.3px currentColor;transform:scaleX(0.9459);">TradingView</span>
<span class="t" style="left:120.00px;top:1083.49px;font-size:14.6px;font-style:italic;transform:scaleX(0.9871);">Please note: Top Panel: 1) The black line is the 20-period EMA, while the red line is the 50-period EMA; the intermediate-term trend is bullish, when the</span>
<span class="t" style="left:111.00px;top:1109.39px;font-size:14.6px;font-style:italic;transform:scaleX(0.9970);">20-ema is higher than the 50-wma and vice versa; 2)&nbsp;&nbsp; ‘Green’&nbsp;&nbsp; bars indicate positive short-term momentum and oscillator readings, and suggest traders</span>
<span class="t" style="left:339.30px;top:1134.99px;font-size:14.6px;font-style:italic;transform:scaleX(1.0079);">consider buy-setups;&nbsp;&nbsp; ‘red’&nbsp;&nbsp; bars on the other hand indicate bearish momentum.</span>
<span class="t" style="left:106.40px;top:1179.19px;font-size:18.6px;transform:scaleX(0.9955);">Disclaimer: There is a risk of loss in trading in derivatives and the report is not to be construed as investment advice. The</span>
<span class="t" style="left:106.40px;top:1211.79px;font-size:18.6px;transform:scaleX(1.0003);">information provided in this report is intended solely for informative purposes. The author, directors and other employees</span>
<span class="t" style="left:106.40px;top:1244.49px;font-size:18.6px;transform:scaleX(1.0109);">of CC Commodity Info Services LLP cannot be held responsible for the accuracy of the information presented herein or</span>
<span class="t" style="left:106.60px;top:1277.29px;font-size:18.6px;transform:scaleX(1.0012);">for the results of the positions taken based on the opinions expressed above.</span>
<span class="t" style="left:1023.68px;top:555.60px;font-size:12px;color:#3b3e47;-webkit-text-stroke:0.15px currentColor;transform:scaleX(0.9111);">292.0</span>
<span class="t" style="left:1023.68px;top:597.60px;font-size:12px;color:#3b3e47;-webkit-text-stroke:0.15px currentColor;transform:scaleX(0.9111);">288.0</span>
<span class="t" style="left:1023.68px;top:639.60px;font-size:12px;color:#3b3e47;-webkit-text-stroke:0.15px currentColor;transform:scaleX(0.9111);">284.0</span>
<span class="t" style="left:1023.68px;top:681.60px;font-size:12px;color:#3b3e47;-webkit-text-stroke:0.15px currentColor;transform:scaleX(0.9111);">280.0</span>
<span class="t" style="left:1023.68px;top:723.60px;font-size:12px;color:#3b3e47;-webkit-text-stroke:0.15px currentColor;transform:scaleX(0.9111);">276.0</span>
<span class="t" style="left:1023.68px;top:765.60px;font-size:12px;color:#3b3e47;-webkit-text-stroke:0.15px currentColor;transform:scaleX(0.9111);">272.0</span>
<span class="t" style="left:1023.68px;top:807.60px;font-size:12px;color:#3b3e47;-webkit-text-stroke:0.15px currentColor;transform:scaleX(0.9111);">268.0</span>
<span class="t" style="left:1023.68px;top:849.60px;font-size:12px;color:#3b3e47;-webkit-text-stroke:0.15px currentColor;transform:scaleX(0.9111);">264.0</span>
<span class="t" style="left:1023.68px;top:891.60px;font-size:12px;color:#3b3e47;-webkit-text-stroke:0.15px currentColor;transform:scaleX(0.9111);">260.0</span>
<span class="t" style="left:1023.68px;top:933.60px;font-size:12px;color:#3b3e47;-webkit-text-stroke:0.15px currentColor;transform:scaleX(0.9111);">256.0</span>
<span class="t" style="left:1023.68px;top:975.60px;font-size:12px;color:#3b3e47;-webkit-text-stroke:0.15px currentColor;transform:scaleX(0.9111);">252.0</span>
<span class="t" style="left:176.18px;top:994.60px;font-size:12px;color:#3b3e47;-webkit-text-stroke:0.15px currentColor;transform:scaleX(0.8878);">24</span>
<span class="t" style="left:258.68px;top:994.60px;font-size:12px;color:#3b3e47;-webkit-text-stroke:0.15px currentColor;transform:scaleX(0.8878);">25</span>
<span class="t" style="left:341.18px;top:994.60px;font-size:12px;color:#3b3e47;-webkit-text-stroke:0.15px currentColor;transform:scaleX(0.8878);">28</span>
<span class="t" style="left:423.98px;top:994.60px;font-size:12px;color:#3b3e47;-webkit-text-stroke:0.15px currentColor;transform:scaleX(0.8878);">29</span>
<span class="t" style="left:506.48px;top:994.60px;font-size:12px;color:#3b3e47;-webkit-text-stroke:0.15px currentColor;transform:scaleX(0.8878);">30</span>
<span class="t" style="left:589.08px;top:994.60px;font-size:12px;color:#3b3e47;-webkit-text-stroke:0.15px currentColor;transform:scaleX(0.8878);">31</span>
<span class="t" style="left:668.18px;top:994.60px;font-size:12px;color:#3b3e47;-webkit-text-stroke:0.15px currentColor;transform:scaleX(0.8830);">Aug</span>
<span class="t" style="left:756.88px;top:994.60px;font-size:12px;color:#3b3e47;-webkit-text-stroke:0.15px currentColor;transform:scaleX(0.9959);">4</span>
<span class="t" style="left:839.58px;top:994.60px;font-size:12px;color:#3b3e47;-webkit-text-stroke:0.15px currentColor;transform:scaleX(0.9959);">5</span>
<span class="t" style="left:921.98px;top:994.60px;font-size:12px;color:#3b3e47;-webkit-text-stroke:0.15px currentColor;transform:scaleX(0.9959);">6</span>
<span class="t" style="left:1005.08px;top:994.60px;font-size:12px;color:#3b3e47;-webkit-text-stroke:0.15px currentColor;transform:scaleX(0.9959);">7</span>
<span class="t" style="left:1023.18px;top:785.80px;font-size:12px;font-weight:bold;color:#fff;transform:scaleX(0.9210);">270.1</span>
<span class="t" style="left:1027.04px;top:499.69px;font-size:11.3px;color:#4c4f58;transform:scaleX(0.9275);">MMBtu</span>
<div class="r" style="left:0;top:477.2px;width:1200px;height:12.8px;overflow:hidden"><span class="t" style="left:1027.04px;top:-2.61px;font-size:11.3px;color:#4c4f58;transform:scaleX(0.9239);">INR</span></div>
<div class="r" style="left:0;top:520.6px;width:1200px;height:9.4px;overflow:hidden"><span class="t" style="left:1023.68px;top:-7.00px;font-size:12px;color:#3b3e47;transform:scaleX(0.9111);">296.0</span></div>
<span class="t" style="left:461.80px;top:560.75px;font-size:29px;font-weight:bold;color:#a39ebe;filter:blur(0.5px);transform:scaleX(0.8833);">commodities</span>
<span class="t" style="left:619.80px;top:560.75px;font-size:29px;font-weight:bold;color:#f7c285;filter:blur(0.5px);transform:scaleX(0.9303);">control.com</span>
</div>
</body></html>
